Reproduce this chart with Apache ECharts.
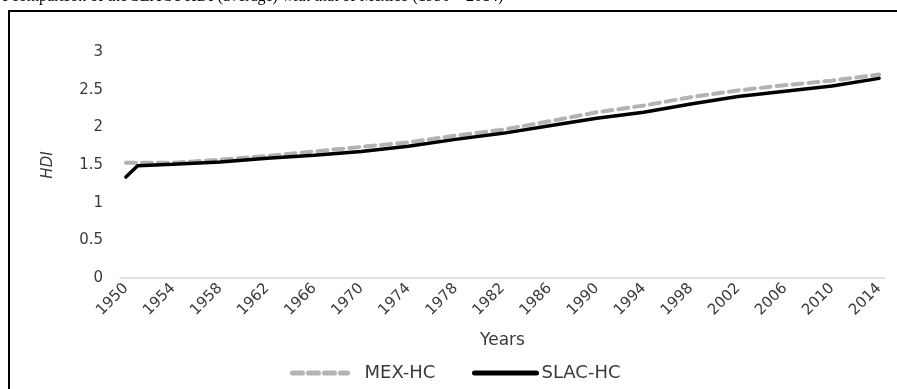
<!DOCTYPE html>
<html lang="en">
<head>
  <meta charset="UTF-8">
  <title>HDI MEX-HC vs SLAC-HC</title>
  <style>
    html, body {
      margin: 0;
      padding: 0;
      background: #fff;
    }
    #chart {
      width: 897px;
      height: 389px;
    }
  </style>
  <script src="https://cdn.jsdelivr.net/npm/echarts@6/dist/echarts.min.js"></script>
</head>
<body>
  <div id="chart"></div>
  <script>
    // years on the axis (one category per year)
    var years = [];
    for (var y = 1950; y <= 2014; y++) years.push(String(y));

    // values at these years
    var readYears = [1950, 1951, 1954, 1958, 1962, 1966, 1970, 1974, 1978, 1982, 1986, 1990, 1994, 1998, 2002, 2006, 2010, 2014];
    var mexHC  = [1.53, 1.53, 1.53, 1.57, 1.62, 1.68, 1.74, 1.80, 1.89, 1.97, 2.08, 2.20, 2.29, 2.40, 2.49, 2.56, 2.62, 2.70];
    var slacHC = [1.34, 1.49, 1.51, 1.54, 1.59, 1.63, 1.68, 1.75, 1.84, 1.92, 2.02, 2.12, 2.20, 2.31, 2.41, 2.48, 2.55, 2.65];

    function toSeries(vals) {
      var out = years.map(function () { return null; });
      readYears.forEach(function (yr, i) {
        out[yr - 1950] = vals[i];
      });
      return out;
    }

    var font = 'DejaVu Sans, Arial, sans-serif';
    var txt = '#3a3a3a';

    var chart = echarts.init(document.getElementById('chart'));
    chart.setOption({
      animation: false,
      textStyle: { fontFamily: font },
      graphic: [
        {
          type: 'text',
          left: -4,
          top: -11,
          style: {
            text: 'A comparison of the SLAC\'s HDI (average) with that of Mexico (1950 \u2013 2014)',
            font: '16px "Liberation Serif", "Times New Roman", serif',
            fill: '#000'
          }
        },
        {
          type: 'rect',
          shape: { x: 9, y: 11, width: 1000, height: 600 },
          style: { fill: 'none', stroke: '#000', lineWidth: 2 }
        }
      ],
      grid: {
        left: 120,
        right: 12,
        top: 52,
        bottom: 111,
        outerBoundsMode: 'none'
      },
      legend: [
        {
          top: 364,
          left: 290,
          padding: 0,
          itemWidth: 55,
          itemHeight: 18,
          itemStyle: { opacity: 0 },
          lineStyle: { width: 5 },
          textStyle: { color: txt, fontSize: 18, fontFamily: font, padding: [0, 0, 0, 12] },
          data: ['MEX-HC']
        },
        {
          top: 364,
          left: 472,
          padding: 0,
          itemWidth: 62,
          itemHeight: 18,
          itemStyle: { opacity: 0 },
          lineStyle: { width: 5 },
          textStyle: { color: txt, fontSize: 18, fontFamily: font, padding: [0, 0, 0, 0] },
          data: ['SLAC-HC']
        }
      ],
      xAxis: {
        type: 'category',
        data: years,
        boundaryGap: true,
        name: 'Years',
        nameLocation: 'middle',
        nameGap: 54,
        nameTextStyle: { color: txt, fontSize: 17 },
        axisLine: { lineStyle: { color: '#d9d9d9', width: 1.5 } },
        axisTick: { show: false },
        axisLabel: {
          interval: 3,
          rotate: 45,
          margin: 8,
          color: txt,
          fontSize: 15
        }
      },
      yAxis: {
        type: 'value',
        min: 0,
        max: 3,
        interval: 0.5,
        name: 'HDI',
        nameLocation: 'middle',
        nameGap: 64,
        nameRotate: 90,
        nameTextStyle: { color: txt, fontSize: 15, fontStyle: 'italic' },
        axisLine: { show: false },
        axisTick: { show: false },
        splitLine: { show: false },
        axisLabel: { color: txt, fontSize: 15, margin: 17 }
      },
      series: [
        {
          name: 'MEX-HC',
          type: 'line',
          data: toSeries(mexHC),
          connectNulls: true,
          symbol: 'none',
          z: 2,
          lineStyle: { color: '#b3b3b3', width: 4, type: [10, 6], cap: 'round' },
          itemStyle: { color: '#b3b3b3' }
        },
        {
          name: 'SLAC-HC',
          type: 'line',
          data: toSeries(slacHC),
          connectNulls: true,
          symbol: 'none',
          z: 3,
          lineStyle: { color: '#000', width: 3.5, cap: 'round' },
          itemStyle: { color: '#000' }
        }
      ]
    });
  </script>
</body>
</html>
